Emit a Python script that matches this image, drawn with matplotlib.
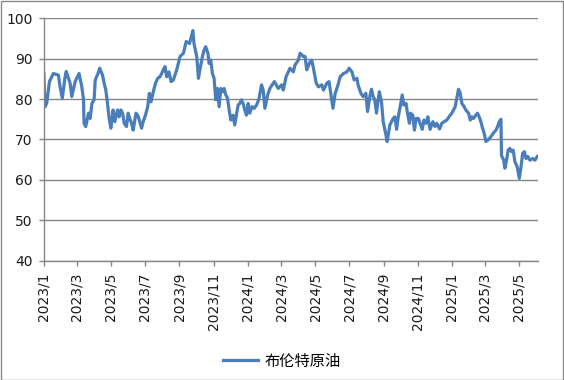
import datetime as dt
import matplotlib
matplotlib.use("Agg")
import matplotlib.pyplot as plt
import matplotlib.dates as mdates
from matplotlib.patches import Rectangle

# Brent close (roughly every few days)
dates = [
    # 2023 Q1
    "2023-01-01", "2023-01-03", "2023-01-06", "2023-01-11", "2023-01-18", "2023-01-27",
    "2023-01-30", "2023-02-03", "2023-02-08", "2023-02-10", "2023-02-17", "2023-02-20",
    "2023-02-26", "2023-03-05", "2023-03-10", "2023-03-13", "2023-03-14", "2023-03-17",
    "2023-03-22", "2023-03-25", "2023-03-28", "2023-04-01",
    # 2023 Apr - Aug
    "2023-04-03", "2023-04-08", "2023-04-11", "2023-04-16", "2023-04-19", "2023-04-22",
    "2023-04-25", "2023-04-28", "2023-05-01", "2023-05-05", "2023-05-08", "2023-05-13",
    "2023-05-16", "2023-05-19", "2023-05-22", "2023-05-25", "2023-05-29", "2023-06-01",
    "2023-06-04", "2023-06-07", "2023-06-10", "2023-06-15", "2023-06-18", "2023-06-21",
    "2023-06-25", "2023-06-28", "2023-07-02", "2023-07-06", "2023-07-09", "2023-07-12",
    "2023-07-16", "2023-07-20", "2023-07-24", "2023-07-28", "2023-07-31", "2023-08-03",
    "2023-08-06", "2023-08-09", "2023-08-13", "2023-08-17", "2023-08-21",
    # 2023 Aug - Sep
    "2023-08-27", "2023-09-02", "2023-09-08", "2023-09-13", "2023-09-19", "2023-09-25",
    "2023-09-27",
    # 2023 Oct - 2024 Feb
    "2023-10-02", "2023-10-05", "2023-10-08", "2023-10-12", "2023-10-15", "2023-10-18",
    "2023-10-22", "2023-10-24", "2023-10-27", "2023-10-30", "2023-11-02", "2023-11-05",
    "2023-11-08", "2023-11-11", "2023-11-14", "2023-11-17", "2023-11-20", "2023-11-23",
    "2023-11-26", "2023-11-29", "2023-12-02", "2023-12-06", "2023-12-09", "2023-12-12",
    "2023-12-15", "2023-12-18", "2023-12-21", "2023-12-24", "2023-12-27", "2023-12-30",
    "2024-01-02", "2024-01-05", "2024-01-09", "2024-01-13", "2024-01-17", "2024-01-21",
    "2024-01-26", "2024-01-29", "2024-02-01", "2024-02-06", "2024-02-10", "2024-02-14",
    "2024-02-18",
    # 2024 Feb - Aug
    "2024-02-25", "2024-03-02", "2024-03-05", "2024-03-10", "2024-03-17", "2024-03-23",
    "2024-03-26", "2024-04-01", "2024-04-04", "2024-04-10", "2024-04-13", "2024-04-16",
    "2024-04-22", "2024-04-25", "2024-04-28", "2024-05-03", "2024-05-07", "2024-05-13",
    "2024-05-16", "2024-05-22", "2024-05-26", "2024-05-29", "2024-06-02", "2024-06-06",
    "2024-06-10", "2024-06-15", "2024-06-21", "2024-06-27", "2024-07-01", "2024-07-06",
    "2024-07-10", "2024-07-15", "2024-07-17", "2024-07-22", "2024-07-26", "2024-07-31",
    "2024-08-03", "2024-08-07", "2024-08-10", "2024-08-13", "2024-08-16", "2024-08-19",
    "2024-08-24", "2024-08-28",
    # 2024 Aug - Dec
    "2024-08-31", "2024-09-05", "2024-09-07", "2024-09-12", "2024-09-18", "2024-09-21",
    "2024-09-24", "2024-09-27", "2024-10-01", "2024-10-04", "2024-10-07", "2024-10-11",
    "2024-10-13", "2024-10-17", "2024-10-19", "2024-10-23", "2024-10-26", "2024-10-29",
    "2024-11-02", "2024-11-05", "2024-11-09", "2024-11-12", "2024-11-16", "2024-11-19",
    "2024-11-23", "2024-11-28", "2024-12-02", "2024-12-05", "2024-12-10", "2024-12-14",
    "2024-12-18", "2024-12-23", "2024-12-29",
    # 2025
    "2025-01-01", "2025-01-07", "2025-01-13", "2025-01-16", "2025-01-19", "2025-01-23",
    "2025-01-26", "2025-01-31", "2025-02-03", "2025-02-06", "2025-02-09", "2025-02-13",
    "2025-02-16", "2025-02-19", "2025-02-22", "2025-02-25", "2025-02-28", "2025-03-03",
    "2025-03-07", "2025-03-12", "2025-03-16", "2025-03-21", "2025-03-24", "2025-03-27",
    "2025-03-30", "2025-03-31", "2025-04-04", "2025-04-06", "2025-04-09", "2025-04-12",
    "2025-04-15", "2025-04-18", "2025-04-21", "2025-04-24", "2025-04-28", "2025-05-02",
    "2025-05-05", "2025-05-08", "2025-05-11", "2025-05-14", "2025-05-17", "2025-05-21",
    "2025-05-26", "2025-05-30", "2025-06-03",
]
brent = [
    # 2023 Q1
    86.3, 78.1, 78.9, 84.3, 86.3, 85.9,
    83.0, 80.2, 85.5, 86.8, 83.9, 80.6,
    84.3, 86.3, 83.0, 79.8, 74.0, 73.2,
    76.5, 75.2, 78.9, 79.8,
    # 2023 Apr - Aug
    84.7, 86.3, 87.6, 85.9, 83.9, 82.2,
    78.9, 75.2, 72.8, 77.3, 74.4, 77.3,
    75.6, 77.3, 76.5, 74.0, 73.2, 76.5,
    75.2, 74.0, 72.3, 76.5, 76.0, 74.8,
    72.8, 74.4, 76.0, 78.1, 81.4, 79.3,
    81.8, 83.9, 85.1, 85.5, 86.3, 87.2,
    88.0, 85.5, 86.7, 84.3, 84.7,
    # 2023 Aug - Sep
    87.2, 90.5, 91.3, 94.2, 93.7, 96.9,
    93.7,
    # 2023 Oct - 2024 Feb
    90.4, 85.1, 87.6, 90.4, 92.1, 92.9,
    91.3, 88.8, 89.6, 86.3, 85.1, 79.8,
    82.6, 78.1, 82.6, 81.8, 82.6, 81.0,
    80.2, 77.3, 74.8, 76.0, 73.6, 76.0,
    78.5, 78.9, 79.8, 78.9, 77.3, 76.0,
    78.9, 76.5, 78.1, 77.7, 78.5, 79.8,
    83.5, 82.2, 77.7, 81.0, 82.6, 83.5,
    84.3,
    # 2024 Feb - Aug
    82.6, 83.5, 82.2, 85.5, 87.6, 86.7,
    88.4, 89.6, 91.3, 90.5, 90.5, 87.2,
    89.2, 89.6, 87.6, 83.9, 83.0, 83.5,
    82.2, 83.9, 84.3, 81.4, 77.7, 81.4,
    83.0, 85.5, 86.3, 86.7, 87.6, 86.7,
    84.7, 85.1, 83.5, 81.4, 80.6, 81.4,
    76.9, 80.6, 82.4, 80.6, 79.8, 76.5,
    81.8, 79.3,
    # 2024 Aug - Dec
    74.4, 71.1, 69.5, 73.6, 75.2, 75.6,
    72.5, 75.6, 78.5, 81.0, 78.5, 78.9,
    76.9, 74.0, 76.5, 76.0, 72.3, 75.2,
    75.2, 74.0, 72.5, 74.8, 74.0, 75.6,
    72.5, 74.4, 73.2, 74.0, 72.6, 74.0,
    74.4, 74.8, 76.0,
    # 2025
    76.5, 78.1, 82.4, 81.4, 78.9, 78.1,
    77.3, 76.5, 74.8, 75.6, 75.2, 76.0,
    76.5, 75.6, 74.4, 72.8, 71.5, 69.5,
    69.9, 70.7, 71.5, 72.3, 73.2, 74.4,
    75.0, 66.0, 64.9, 62.9, 64.9, 67.4,
    67.8, 67.0, 67.4, 64.5, 63.3, 60.4,
    63.3, 66.6, 67.0, 65.3, 65.8, 64.9,
    65.3, 64.9, 65.8,
]
series_name = "布伦特原油"
y_ticks = [40, 50, 60, 70, 80, 90, 100]

assert len(dates) == len(brent)
x = [dt.datetime.strptime(d, "%Y-%m-%d") for d in dates]

fig = plt.figure(figsize=(5.64, 3.8), dpi=100)
ax = fig.add_axes([0.0778, 0.3132, 0.8757, 0.6394])

line, = ax.plot(x, brent, color="#4a7ebb", lw=2.3, solid_joinstyle="round")

ax.set_ylim(40, 100)
ax.set_yticks(y_ticks)
ax.set_xlim(dt.datetime(2023, 1, 1), dt.datetime(2025, 6, 4))
ax.xaxis.set_major_locator(mdates.MonthLocator(bymonth=[1, 3, 5, 7, 9, 11]))
ax.xaxis.set_major_formatter(
    matplotlib.ticker.FuncFormatter(lambda v, p: "{}/{}".format(mdates.num2date(v).year, mdates.num2date(v).month)))

ax.grid(axis="y", color="#868686", lw=1)
ax.set_axisbelow(True)
for s in ["top", "right"]:
    ax.spines[s].set_visible(False)
for s in ["left", "bottom"]:
    ax.spines[s].set_color("#868686")
    ax.spines[s].set_linewidth(1)

ax.tick_params(axis="both", colors="#868686", labelcolor="#1a1a1a", labelsize=10,
               length=3.6, width=1, direction="out")
ax.tick_params(axis="y", pad=4.6)
ax.tick_params(axis="x", pad=5, labelrotation=90)

leg = fig.legend([line], [series_name], loc="center", bbox_to_anchor=(0.5, 1 - 361 / 380),
                 frameon=False, handlelength=2.3, handletextpad=0.4,
                 prop={"family": ["Noto Sans CJK SC", "DejaVu Sans"], "size": 11})

fig.patches.append(Rectangle((0.5 / 564, 0.5 / 380), 562.5 / 564, 378.5 / 380,
                             transform=fig.transFigure, fill=False, edgecolor="#8a8a8a", lw=1))

fig.savefig("out.png", dpi=100)
